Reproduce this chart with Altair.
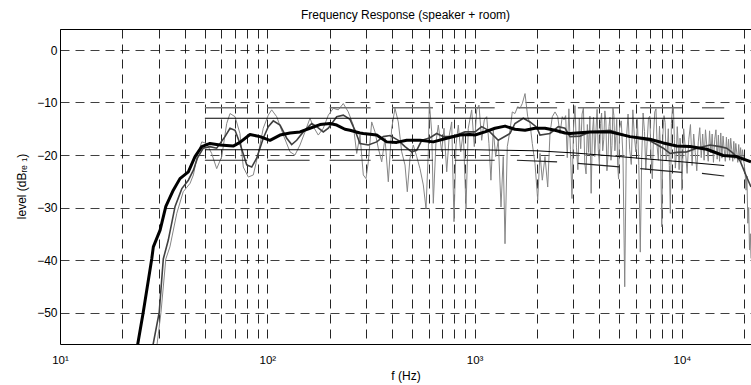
import altair as alt
import pandas as pd

# ---- measured response: raw (unsmoothed) magnitude, Hz / dB re 1 ----
raw_freq = [29.3, 30.7, 32.4, 33.9, 36.6, 39.3, 42.4, 44.0, 46.0, 48.3, 51.0, 53.9, 57.0, 60.3,
            63.7, 66.1, 69.9, 73.8, 76.6, 81.0, 85.6, 90.5, 95.6, 101.1, 105.0, 111.0, 119.5,
            128.7, 136.0, 143.8, 152.0, 160.7, 166.7, 176.2, 186.3, 197.0, 208.2, 220.0, 232.6,
            245.9, 259.9, 270.0, 280.0, 290.5, 299.3, 307.1, 318.9, 330.8, 343.2, 356.4, 369.7,
            383.5, 398.2, 413.0, 428.5, 445.0, 461.7, 473.6, 488.0, 506.2, 525.7, 545.3, 565.7,
            583.0, 598.1, 604.8, 621.1, 632.2, 651.4, 668.3, 694.0, 712.1, 733.7, 755.2, 775.5,
            795.6, 813.5, 834.7, 857.1, 882.3, 909.1, 932.3, 968.3, 996.8, 1024, 1050, 1082, 1114,
            1144, 1173, 1199, 1231, 1264, 1301, 1341, 1375, 1402, 1438, 1482, 1520, 1566, 1614,
            1656, 1699, 1751, 1804, 1851, 1898, 1956, 2016, 2068, 2122, 2186, 2253, 2311, 2371,
            2443, 2518, 2582, 2649, 2700,
            2750, 2800, 2850, 2900, 2950, 3000, 3050, 3100, 3150, 3200, 3250, 3300, 3350, 3400,
            3450, 3500, 3550, 3600, 3650, 3700, 3750, 3800, 3850, 3900, 3950, 4000, 4050, 4100,
            4150, 4200, 4250, 4300, 4350, 4400, 4450, 4500, 4550, 4600, 4650, 4700, 4750, 4800,
            4850, 4900, 4950, 5000,
            5100, 5200, 5300, 5400, 5500, 5600, 5700, 5800, 5900, 6000, 6100, 6200, 6300, 6400,
            6500, 6600, 6700, 6800, 6900, 7000, 7100, 7200, 7300, 7400, 7500, 7600, 7700, 7800,
            7900, 8000, 8100, 8200, 8300, 8400, 8500, 8600, 8700, 8800, 8900, 9000, 9100, 9200,
            9300, 9400, 9500, 9600, 9700, 9800, 9900, 10000,
            10200, 10400, 10600, 10800, 11000, 11200, 11400, 11600, 11800, 12000, 12200, 12400,
            12600, 12800, 13000, 13200, 13400, 13600, 13800, 14000, 14200, 14400, 14600, 14800,
            15000, 15200, 15400, 15600, 15800, 16000, 16200, 16400, 16600, 16800, 17000, 17200,
            17400, 17600, 17800, 18000, 18200, 18400, 18600, 18800, 19000, 19200, 19400, 19600,
            19800, 20000, 20200, 20400, 20600, 20800, 21000, 21200, 21400, 21550]
raw_level = [-56.5, -50.0, -39.8, -37.5, -31.1, -27.0, -25.4, -23.8, -20.0, -17.5, -17.8, -19.7,
             -22.6, -20.3, -14.0, -12.1, -12.7, -15.9, -22.3, -24.2, -23.8, -19.7, -14.9, -12.4,
             -11.4, -12.7, -16.2, -19.4, -20.0, -18.1, -15.6, -13.0, -14.6, -16.2, -14.9, -12.4,
             -11.1, -11.4, -10.2, -11.8, -14.3, -19.7, -16.2, -23.8, -24.5, -21.3, -13.7, -15.6,
             -18.7, -21.3, -16.8, -25.1, -14.9, -11.1, -13.7, -19.4, -21.9, -27.0, -20.6, -18.1,
             -20.3, -22.6, -25.7, -30.2, -19.4, -9.9, -15.6, -29.2, -17.5, -14.3, -19.4, -14.9,
             -23.2, -16.2, -13.7, -32.7, -18.1, -14.3, -19.4, -15.6, -30.2, -14.9, -11.4, -18.4,
             -11.4, -10.5, -17.2, -13.3, -12.7, -17.8, -24.8, -15.3, -20.3, -17.2, -29.9, -20.3,
             -36.9, -18.4, -15.3, -11.8, -12.1, -10.8, -11.1, -10.2, -8.3, -12.7, -14.0, -17.8,
             -21.6, -28.6, -19.7, -24.8, -20.3, -26.1, -15.9, -12.7, -11.8, -12.7, -15.9, -12.7,
             -13.3,
             -12.5, -20.5, -11.2, -19.0, -28.3, -15.0, -10.6, -18.5, -22.8, -13.0, -18.8, -12.2,
             -11.0, -21.5, -23.6, -14.2, -19.5, -12.6, -27.3, -16.0, -12.8, -20.3, -15.5, -11.3,
             -19.0, -21.8, -14.0, -12.0, -19.2, -17.0, -11.6, -13.5, -23.0, -20.0, -14.6, -12.8,
             -21.0, -18.2, -11.0, -12.5, -19.2, -16.5, -13.2, -22.0, -24.6, -15.0,
             -13.5, -20.5, -45.1, -17.0, -12.2, -19.0, -21.8, -11.4, -16.5, -19.4, -13.2, -22.0,
             -38.5, -20.5, -12.0, -15.5, -22.8, -17.5, -13.0, -12.6, -20.0, -24.5, -16.0, -11.8,
             -11.2, -18.5, -21.0, -14.5, -19.8, -33.7, -16.0, -12.5, -13.8, -21.0, -19.5, -15.0,
             -22.0, -31.1, -14.0, -11.2, -10.8, -17.0, -22.5, -20.0, -14.6, -18.0, -22.8, -16.8,
             -19.0, -26.7,
             -15.0, -19.0, -23.5, -17.0, -14.2, -22.0, -16.0, -19.5, -23.0, -17.5, -14.8, -20.5,
             -16.0, -21.0, -15.2, -18.5, -21.2, -15.4, -19.6, -16.0, -21.4, -17.0, -15.2, -20.8,
             -16.2, -21.2, -15.8, -20.6, -16.4, -19.0, -21.2, -16.6, -20.4, -17.0, -21.0, -16.8,
             -19.0, -21.2, -17.4, -20.8, -17.8, -19.6, -21.4, -18.0, -21.0, -18.6, -21.2, -19.0,
             -20.6, -21.8, -23.5, -26.7, -24.0, -33.0, -30.0, -38.1, -35.0, -39.7]

# ---- 1/3-octave smoothed response ----
third_freq = [28.0, 30.1, 31.5, 33.3, 35.9, 38.7, 41.6, 44.0, 46.0, 49.1, 52.9, 57.0, 62.5, 66.1,
              69.9, 73.8, 79.6, 84.1, 88.9, 95.6, 101.1, 106.9, 115.2, 124.1, 131.1, 138.6, 149.2,
              163.8, 173.1, 186.3, 197.0, 216.2, 232.6, 250.6, 264.9, 280.0, 307.1, 337.1, 362.8,
              390.8, 428.5, 461.7, 497.3, 525.7, 555.7, 609.5, 656.5, 706.5, 761.0, 820.0, 899.1,
              1004, 1082, 1165, 1301, 1482, 1566, 1718, 1851, 1994, 2068, 2311, 2534, 2730, 2886,
              3225, 3602, 4499, 5617, 7018, 8134, 8763, 9439, 10548, 11788, 13665, 15270, 16451,
              17701, 19071, 20540, 21550]
third_level = [-56.5, -50.0, -39.8, -36.2, -29.8, -26.4, -24.8, -22.9, -20.6, -18.7, -18.4, -18.7,
               -16.5, -14.9, -15.3, -17.8, -21.9, -22.3, -20.6, -16.8, -14.6, -13.5, -14.3, -16.8,
               -18.0, -17.2, -15.6, -14.0, -14.6, -15.6, -14.9, -12.7, -12.4, -13.2, -15.3, -17.8,
               -18.1, -17.5, -16.5, -16.3, -17.2, -18.4, -19.4, -19.1, -17.2, -16.7, -15.9, -16.5,
               -16.5, -16.2, -15.6, -15.6, -14.6, -15.3, -17.2, -15.9, -14.0, -13.0, -13.7, -14.7,
               -16.2, -15.9, -14.6, -14.9, -16.5, -16.4, -15.6, -15.3, -16.5, -17.3, -18.7, -19.7,
               -19.5, -19.4, -18.7, -18.1, -18.4, -18.7, -19.7, -21.1, -24.2, -26.1]

# ---- octave smoothed response ----
oct_freq = [23.6, 25.2, 27.7, 28.2, 30.4, 32.4, 35.2, 37.9, 41.6, 44.8, 48.3, 52.9, 59.1, 68.5,
            73.8, 82.5, 92.2, 103.0, 115.2, 128.7, 143.8, 160.7, 179.6, 200.7, 216.2, 237.0, 250.6,
            280.0, 290.5, 337.1, 376.7, 420.9, 470.5, 545.3, 632.2, 733.7, 850.6, 950.1, 1004, 1122,
            1254, 1402, 1566, 1751, 1956, 2186, 2443, 2730, 2886, 3602, 4499, 5617, 7018, 8134,
            9439, 10942, 13171, 15840, 18381, 21550]
oct_level = [-56.5, -50.0, -39.8, -37.5, -34.3, -29.8, -26.7, -24.5, -23.2, -20.3, -18.4, -17.8,
             -18.1, -18.3, -17.6, -16.1, -16.5, -17.2, -16.2, -15.8, -15.6, -14.9, -14.2, -14.0,
             -14.3, -15.1, -15.3, -15.8, -15.9, -16.2, -17.5, -17.6, -17.2, -17.2, -17.5, -16.8,
             -16.2, -16.1, -16.2, -15.6, -14.9, -14.5, -15.1, -15.3, -14.9, -14.9, -15.3, -15.8,
             -15.9, -15.6, -15.6, -16.5, -17.0, -17.7, -18.3, -18.4, -18.9, -20.1, -20.3, -21.3]

# ---- tolerance limits ----
inner_upper_freq = [50, 16000]
inner_upper_level = [-13, -13]
inner_lower_freq = [50, 1000, 2000, 3000, 5000, 7000, 10000, 16000]
inner_lower_level = [-19, -19, -19.2, -19.6, -20.3, -20.8, -21.3, -22]
band_lo = [50, 100, 200, 400, 800, 1600, 3150, 6300, 12500]
band_hi = [80, 160, 315, 630, 1250, 2500, 5000, 10000, 16000]
outer_upper = [-11, -11, -11, -11, -11, -11, -11, -11, -11]
outer_lower_start = [-21, -21, -21, -21, -21, -21.0, -21.6, -22.6, -23.5]
outer_lower_end = [-21, -21, -21, -21, -21, -21.3, -22.25, -23.3, -24.0]

# ---- axis ticks ----
x_grid = [10, 20, 30, 40, 50, 60, 70, 80, 90,
          100, 200, 300, 400, 500, 600, 700, 800, 900,
          1000, 2000, 3000, 4000, 5000, 6000, 7000, 8000, 9000,
          10000, 20000]
y_ticks = [-50, -40, -30, -20, -10, 0]

FONT = "Liberation Sans"

x_scale = alt.Scale(type="log", domain=[10, 21550], nice=False)
y_scale = alt.Scale(domain=[-56, 4], nice=False, zero=False)

x_axis = alt.Axis(
    values=x_grid,
    labelExpr=("datum.value == 10 ? '10\u00b9' : datum.value == 100 ? '10\u00b2' : "
               "datum.value == 1000 ? '10\u00b3' : datum.value == 10000 ? '10\u2074' : ''"),
    grid=True, gridDash=[9, 6], gridColor="#000000", gridWidth=1, gridOpacity=0.85,
    tickSize=0, domain=False, labelPadding=19, labelBaseline="alphabetic",
    labelFlush=False, labelOverlap=False, labelFontSize=11.5,
    title="f (Hz)", titleY=35, titleBaseline="alphabetic",
)
y_axis = alt.Axis(
    values=y_ticks,
    grid=True, gridDash=[9, 6], gridColor="#000000", gridWidth=1, gridOpacity=0.75,
    tickSize=0, domain=False, labelPadding=3, labelFontSize=12,
    title="level (dB\u1d63\u2091 \u2081)", titleX=-35, titleY=157, titleAngle=270,
    titleAlign="center", titleBaseline="alphabetic",
)


def xe(field):
    return alt.X(field, type="quantitative", scale=x_scale, axis=x_axis)


def ye(field):
    return alt.Y(field, type="quantitative", scale=y_scale, axis=y_axis)


raw_df = pd.DataFrame({"f": raw_freq, "L": raw_level})
third_df = pd.DataFrame({"f": third_freq, "L": third_level})
oct_df = pd.DataFrame({"f": oct_freq, "L": oct_level})
inner_df = pd.DataFrame({
    "f": inner_upper_freq + inner_lower_freq,
    "L": inner_upper_level + inner_lower_level,
    "line": ["upper"] * len(inner_upper_freq) + ["lower"] * len(inner_lower_freq),
})
upper_band_df = pd.DataFrame({"f1": band_lo, "f2": band_hi, "l1": outer_upper, "l2": outer_upper})
lower_band_df = pd.DataFrame({"f1": band_lo, "f2": band_hi,
                              "l1": outer_lower_start, "l2": outer_lower_end})

raw_line = alt.Chart(raw_df).mark_line(color="#868686", strokeWidth=1, clip=True).encode(
    x=xe("f"), y=ye("L"))
third_line = alt.Chart(third_df).mark_line(color="#404040", strokeWidth=1.6, clip=True).encode(
    x=xe("f"), y=ye("L"))
inner_lines = alt.Chart(inner_df).mark_line(color="#000000", strokeWidth=1, clip=True).encode(
    x=xe("f"), y=ye("L"), detail="line:N")
upper_bands = alt.Chart(upper_band_df).mark_rule(color="#707070", strokeWidth=1.5).encode(
    x=xe("f1"), x2="f2", y=ye("l1"), y2="l2")
lower_bands = alt.Chart(lower_band_df).mark_rule(color="#222222", strokeWidth=1.2).encode(
    x=xe("f1"), x2="f2", y=ye("l1"), y2="l2")
oct_line = alt.Chart(oct_df).mark_line(color="#000000", strokeWidth=3, clip=True,
                                       strokeJoin="round").encode(x=xe("f"), y=ye("L"))

chart = alt.layer(
    raw_line, third_line, inner_lines, upper_bands, lower_bands, oct_line
).properties(
    width=691,
    height=315,
    title=alt.TitleParams("Frequency Response (speaker + room)", anchor="middle",
                          baseline="alphabetic", offset=12, dy=14),
    autosize=alt.AutoSizeParams(type="none"),
    padding={"left": 60, "top": 29, "right": 0, "bottom": 41},
).configure(
    background="white",
).configure_view(
    stroke="#000000", strokeWidth=1,
).configure_axis(
    labelFont=FONT, labelColor="#000000",
    titleFont=FONT, titleFontSize=12, titleColor="#000000", titleFontWeight="normal",
).configure_title(
    font=FONT, fontSize=12, fontWeight="normal", color="#000000",
)

chart.save("out.html", embed_options={"renderer": "svg", "actions": False})
